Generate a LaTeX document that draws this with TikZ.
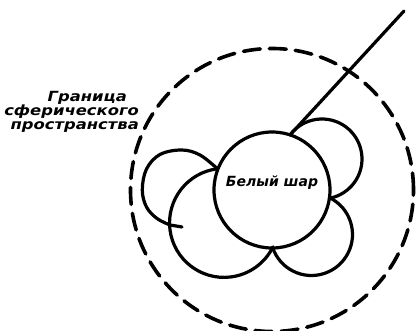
\documentclass[tikz,border=0pt]{standalone}
\usepackage{fontspec}
\setmainfont{DejaVu Sans}
\newfontfamily\widesans{DejaVu Sans}[FakeStretch=1.17]
\begin{document}
\begin{tikzpicture}[x=1pt,y=1pt,
  solidline/.style={line width=3.2pt, line cap=round, line join=round},
  dashline/.style={line width=3.6pt, line cap=round, dash pattern=on 17pt off 9pt},
  lbl/.style={font=\fontsize{14}{14}\selectfont\bfseries\itshape, inner sep=0pt},
  widelbl/.style={font=\widesans\fontsize{14}{14.3}\selectfont\bfseries\itshape, inner sep=0pt}]
\useasboundingbox (0,0) rectangle (416,331);
% central ball
\node[circle, draw, line width=3.2pt, minimum size=116pt, inner sep=0pt] (ball) at (272,141) {};
\node[lbl] (balltext) at ([yshift=7.5pt]ball.center) {Белый шар};
% boundary of the spherical space
\draw[dashline] (ball.center) circle[radius=141.5];
% lobe centres
\coordinate (c1) at (322,172);
\coordinate (c2) at (311.5,96.5);
\coordinate (c3) at (224,107);
\coordinate (jl) at (217.4,162.2);
\coordinate (lineend) at (404,320);
\coordinate (p1) at ([shift={(143:40)}]c1);
% upper-right lobe
\draw[solidline] (p1) arc[start angle=143, end angle=-78.4, radius=40];
% lower-right lobe
\draw[solidline] ([shift={(63:41)}]c2) arc[start angle=63, end angle=-160.7, radius=41];
% lower-left lobe
\draw[solidline] (jl) arc[start angle=97, end angle=334, radius=54.5];
% upper-left lobe with tick
\draw[solidline] plot[smooth, tension=0.6] coordinates {(jl) (200,176) (181.7,181) (160,176.5) (146.5,162) (142.3,141) (146.5,124) (157,112.5) (170,106)} -- (182,104);
% line out of the sphere
\draw[solidline] (p1) -- (lineend);
% label
\node[widelbl, align=right, anchor=east] (border) at (139,219) {Граница\hspace*{12pt}\\сферического\hspace*{12pt}\\пространства};
\end{tikzpicture}
\end{document}
